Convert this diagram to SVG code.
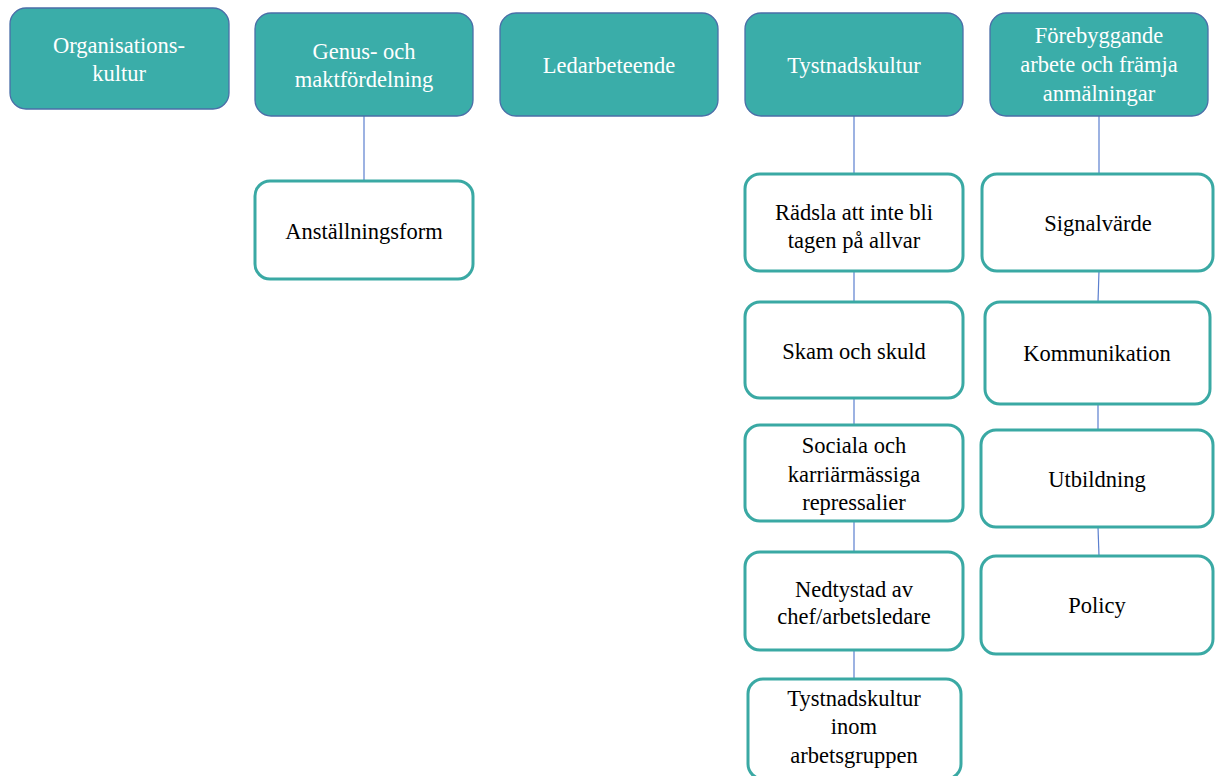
<svg xmlns="http://www.w3.org/2000/svg" width="1215" height="776" viewBox="0 0 1215 776" font-family="'Liberation Serif', 'Times New Roman', 'DejaVu Serif', serif">
<style>
.top rect{fill:#3aada9;stroke:#4a6ea8;stroke-width:1.3}
.top text{fill:#ffffff;font-family:'Liberation Serif','Times New Roman','DejaVu Serif',serif;font-size:22.5px;text-anchor:middle}
.sub rect{fill:#ffffff;stroke:#3aa9a4;stroke-width:3}
.sub text{fill:#000000;font-family:'Liberation Serif','Times New Roman','DejaVu Serif',serif;font-size:22.5px;text-anchor:middle}
#connectors line{stroke:#5b7fcf;stroke-width:1.2}
</style>
<rect width="1215" height="776" fill="#ffffff"/>
<g id="connectors">
<line x1="364" y1="116" x2="364" y2="181"/>
<line x1="854" y1="116" x2="854" y2="174"/>
<line x1="854" y1="271" x2="854" y2="302"/>
<line x1="854" y1="398" x2="854" y2="425"/>
<line x1="854" y1="521" x2="854" y2="552"/>
<line x1="854" y1="650" x2="854" y2="679"/>
<line x1="1099" y1="116" x2="1099" y2="174"/>
<line x1="1099" y1="271" x2="1098" y2="302"/>
<line x1="1098" y1="404" x2="1098" y2="430"/>
<line x1="1098" y1="527" x2="1099" y2="556"/>
</g>
<g id="n-org" class="top"><rect x="10" y="8" width="219" height="101" rx="16"/><text x="119" y="53">Organisations-</text><text x="119" y="81">kultur</text></g>
<g id="n-genus" class="top"><rect x="255" y="13" width="218" height="103" rx="16"/><text x="364" y="59">Genus- och</text><text x="364" y="87">maktfördelning</text></g>
<g id="n-ledar" class="top"><rect x="500" y="13" width="218" height="103" rx="16"/><text x="609" y="73">Ledarbeteende</text></g>
<g id="n-tyst" class="top"><rect x="745" y="13" width="218" height="103" rx="16"/><text x="854" y="73">Tystnadskultur</text></g>
<g id="n-fore" class="top"><rect x="990" y="13" width="218" height="103" rx="16"/><text x="1099" y="43">Förebyggande</text><text x="1099" y="72">arbete och främja</text><text x="1099" y="101">anmälningar</text></g>
<g id="n-anst" class="sub"><rect x="255" y="181" width="218" height="98" rx="15"/><text x="364" y="239">Anställningsform</text></g>
<g id="n-rads" class="sub"><rect x="745" y="174" width="218" height="97" rx="15"/><text x="854" y="220">Rädsla att inte bli</text><text x="854" y="248">tagen på allvar</text></g>
<g id="n-skam" class="sub"><rect x="745" y="302" width="218" height="96" rx="15"/><text x="854" y="359">Skam och skuld</text></g>
<g id="n-soc" class="sub"><rect x="745" y="425" width="218" height="96" rx="15"/><text x="854" y="453">Sociala och</text><text x="854" y="482">karriärmässiga</text><text x="854" y="510">repressalier</text></g>
<g id="n-ned" class="sub"><rect x="745" y="552" width="218" height="98" rx="15"/><text x="854" y="597">Nedtystad av</text><text x="854" y="624">chef/arbetsledare</text></g>
<g id="n-tinom" class="sub"><rect x="748" y="679" width="213" height="100" rx="15"/><text x="854" y="706">Tystnadskultur</text><text x="854" y="734">inom</text><text x="854" y="763">arbetsgruppen</text></g>
<g id="n-sign" class="sub"><rect x="982" y="174" width="231" height="97" rx="15"/><text x="1098" y="231">Signalvärde</text></g>
<g id="n-komm" class="sub"><rect x="985" y="302" width="225" height="102" rx="15"/><text x="1097" y="361">Kommunikation</text></g>
<g id="n-utb" class="sub"><rect x="981" y="430" width="232" height="97" rx="15"/><text x="1097" y="487">Utbildning</text></g>
<g id="n-pol" class="sub"><rect x="981" y="556" width="232" height="98" rx="15"/><text x="1097" y="613">Policy</text></g>
</svg>
